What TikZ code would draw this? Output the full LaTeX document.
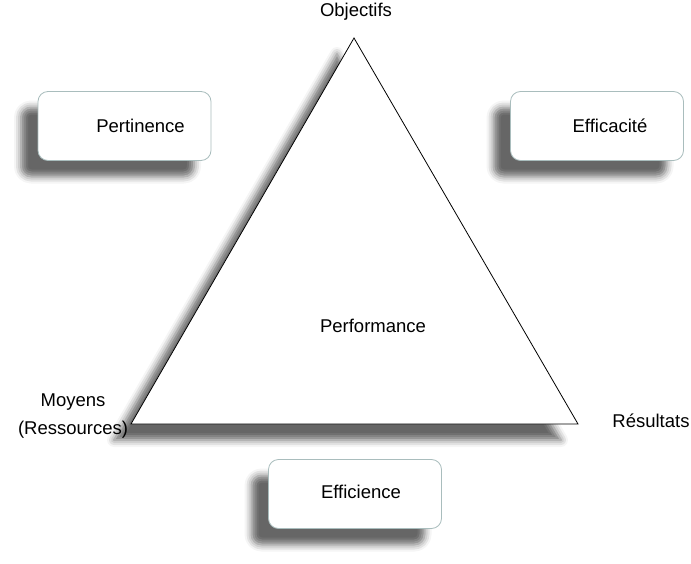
\documentclass[tikz,border=0pt]{standalone}
\usepackage{fontspec}
\setmainfont{Liberation Sans}
\usetikzlibrary{shadows.blur}
\definecolor{bordecaja}{HTML}{A9BDBD}
\tikzset{
    sombra/.style={blur shadow={shadow xshift=-17pt,shadow yshift=-16pt,
        shadow blur radius=7pt,shadow opacity=60}},
    caja/.style={draw=bordecaja,fill=white,rounded corners=10pt,line width=0.8pt,
        minimum width=173pt,minimum height=69pt,sombra},
    triangulo/.style={draw=black,fill=white,line width=0.8pt,line join=miter,sombra},
    texto/.style={font=\fontsize{18.5}{28}\selectfont,inner sep=0pt}
}
\begin{document}
\begin{tikzpicture}[x=1pt,y=-1pt]
        \useasboundingbox (0,0) rectangle (691,564);

        % ~~~~ Triangle ~~~~ %
        \coordinate (obj) at (354,38);
        \coordinate (moy) at (131,424);
        \coordinate (res) at (578,424);
        \draw[triangulo] (obj) -- (res) -- (moy) -- cycle;

        % ~~~~ Sommets ~~~~ %
        \node[texto] (objectifs) at (356,12) {Objectifs};
        \node[texto,align=center] (moyens) at (73,416) {Moyens\\(Ressources)};
        \node[texto] (resultats) at (651,421) {Résultats};
        \node[texto] (performance) at (373,326) {Performance};

        % ~~~~ Critères ~~~~ %
        \node[caja] (pert) at (124.5,126) {};
        \node[texto] (pertinence) at ([xshift=16pt]pert.center) {Pertinence};
        \node[caja] (effi) at (597,126) {};
        \node[texto] (efficacite) at ([xshift=13pt]effi.center) {Efficacité};
        \node[caja] (effc) at (355,494) {};
        \node[texto] (efficience) at ([xshift=6pt,yshift=2pt]effc.center) {Efficience};
\end{tikzpicture}
\end{document}
